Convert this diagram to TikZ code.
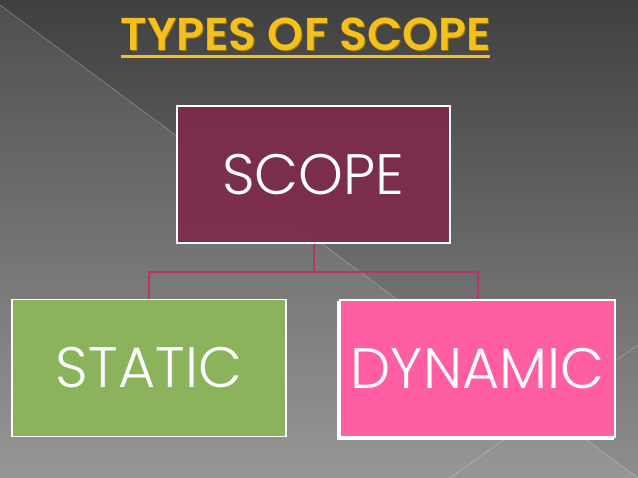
\documentclass[tikz,border=0pt]{standalone}
\usepackage{fontspec}
\setmainfont{Poppins}
\newfontfamily\boxfont{Poppins Light}
\newfontfamily\titlefont{Poppins SemiBold}
\usetikzlibrary{calc}

\definecolor{bgtop}{HTML}{404040}
\definecolor{bgbottom}{HTML}{8E8E8E}
\definecolor{scopecol}{HTML}{7E2A4C}
\definecolor{staticcol}{HTML}{8BB35B}
\definecolor{dynamiccol}{HTML}{FF5FA2}
\definecolor{linkcol}{HTML}{B8336A}
\definecolor{titlegold}{HTML}{F4C11C}
\definecolor{titleshade}{HTML}{9C7400}

\begin{document}
\begin{tikzpicture}[x=1pt,y=1pt,
    box/.style={draw=white,line width=1.5pt,minimum width=273pt,minimum height=137pt,
      inner sep=0pt,text=white,font=\boxfont\fontsize{57}{60}\selectfont},
    link/.style={draw=linkcol,line width=2pt},
    glint/.style={white,opacity=0.3,line width=0.6pt}]
    \useasboundingbox (0,0) rectangle (638,478);
    % background
    \shade[top color=bgtop,bottom color=bgbottom] (0,0) rectangle (638,478);
    \fill[white,opacity=0.08] (0,473) -- (638,0) -- (0,0) -- cycle;
    \draw[glint] (0,473) -- (638,0);
    \draw[glint] (450,0) -- (638,133);
    % title
    \node (titleshadow) [text=titleshade,font=\titlefont\fontsize{46}{48}\selectfont] at (307,443) {TYPES OF SCOPE};
    \node (title) [text=titlegold,font=\titlefont\fontsize{46}{48}\selectfont] at (306,444) {TYPES OF SCOPE};
    \draw[titlegold,line width=3pt] (121,421) -- (490,421);
    % boxes
    \node (scope) [box,fill=scopecol,fill opacity=0.93,text opacity=1] at (313.5,303.5) {SCOPE};
    \node (static) [box,fill=staticcol,minimum width=274pt] at (149,110) {STATIC};
    \draw[white,line width=1.2pt,fill=dynamiccol] (338,39) rectangle (613,176);
    \node (dynamic) [box,fill=dynamiccol,minimum width=275pt] at (477.5,109.5) {DYNAMIC};
    % connectors
    \draw[link] (scope.south) -- ++(0,-28) coordinate (fork) -| (static.north)
      (fork) -| (dynamic.north);
\end{tikzpicture}
\end{document}
